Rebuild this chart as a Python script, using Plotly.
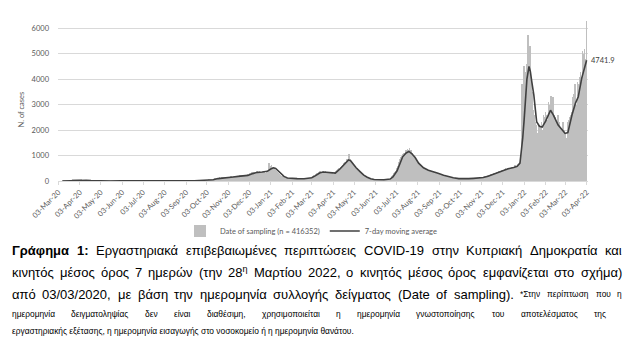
import pandas as pd
import plotly.graph_objects as go

# ---------------- data (daily cases by date of sampling) ----------------
start_date = "2020-03-03"
c_2020_03 = [0,0,0,0,0,0,2,2,3,5,8,6,10,12,15,20,18,25,30,28,35,40,30,38,45,42,50,35,40,48,55]
c_2020_04 = [52,45,40,38,30,35,28,25,20,22,18,15,20,12,10,14,8,10,6,9,5,7,4,6,3,5,4,2,3,4]
c_2020_05 = [2,3,1,2,4,1,0,2,3,1,2,1,0,3,2,1,2,4,1,0,2,1,3,2,5,3,2,4,6,3,2]
c_2020_06 = [5,8,4,3,2,6,10,7,4,3,2,5,3,2,4,1,2,3,5,2,3,1,2,4,3,2,5,6,3,4]
c_2020_07 = [3,2,4,1,2,3,5,4,2,3,1,2,6,4,3,2,5,3,2,1,4,6,8,5,3,4,7,9,6,8,10]
c_2020_08 = [12,9,14,11,8,15,13,10,16,12,9,18,14,11,8,13,10,7,12,9,11,8,14,10,12,9,7,11,13,8,10]
c_2020_09 = [9,12,8,6,10,14,11,8,12,9,7,13,10,15,12,9,14,18,12,10,16,13,20,15,11,18,22,16,19,24]
c_2020_10 = [25,30,38,45,55,60,70,65,80,95,90,105,110,98,120,130,115,125,140,135,128,150,145,138,155,160,142,150,165,158,148]
c_2020_11 = [150,165,140,170,185,160,145,175,190,200,170,180,210,195,175,160,205,220,195,185,230,215,200,180,245,235,215,230,260,250]
c_2020_12 = [270,300,320,290,340,360,310,330,370,350,320,380,350,370,340,390,360,330,350,380,400,360,340,300,320,280,370,390,710,420,580]
c_2021_01 = [560,620,500,540,480,530,450,420,380,360,330,290,270,250,230,210,190,175,160,150,140,130,125,115,110,105,100,95,90,100,95]
c_2021_02 = [95,105,90,85,100,110,95,88,92,100,85,80,95,90,85,78,88,95,82,90,100,95,110,105,120,130,115,140]
c_2021_03 = [150,180,200,220,190,250,280,300,270,320,350,330,380,360,340,370,390,350,330,360,380,340,320,350,370,330,310,340,360,320,300]
c_2021_04 = [280,260,320,350,380,420,450,480,500,470,520,560,600,580,640,700,680,750,720,800,850,780,900,1050,880,820,750,700,680,620]
c_2021_05 = [600,560,500,480,520,440,400,380,350,330,300,280,260,230,200,190,170,150,140,120,110,100,90,80,75,70,60,55,50,60,55]
c_2021_06 = [50,45,55,48,40,52,45,50,42,48,55,50,45,52,60,55,50,58,65,70,80,95,120,150,190,230,270,320,360,400]
c_2021_07 = [450,520,600,680,760,850,900,950,1000,1050,980,1100,1080,1150,1200,1100,1250,1180,1220,1300,1150,1200,1100,1050,1000,980,950,900,870,850,800]
c_2021_08 = [760,720,680,650,620,590,560,540,520,500,480,460,450,430,420,400,410,390,380,370,360,350,380,340,330,320,310,300,290,280,270]
c_2021_09 = [260,250,240,235,230,220,210,200,190,180,175,170,160,150,145,140,135,130,125,120,118,115,110,105,100,98,95,92,90,88]
c_2021_10 = [85,80,78,82,75,80,85,90,88,92,95,90,98,100,95,105,102,98,110,105,100,112,108,115,110,118,120,115,125,122,128]
c_2021_11 = [130,135,150,160,170,180,190,200,210,220,230,240,250,260,270,280,290,300,310,320,330,340,350,360,370,380,390,400,410,420]
c_2021_12 = [430,450,420,480,500,460,440,520,490,470,530,510,480,550,520,500,560,540,620,580,520,600,650,640,700,760,900,3200,3800,3500,4000]
c_2022_01 = [4500,4200,3900,4300,4600,4800,5750,4700,5300,4400,3900,3500,3000,2800,2600,2400,2300,2200,2100,1900,1700,2200,2100,2000,2150,2300,2000,1800,2600,2500,2450]
c_2022_02 = [2700,2600,2400,2200,3100,2900,3000,2800,3350,2500,2300,3300,2600,2500,2400,2300,2100,1900,2600,2300,2200,2100,2000,1800,1600,2300,2000,1900]
c_2022_03 = [1850,1700,1500,1600,2300,2200,2400,2500,2600,2400,2700,3300,3200,3400,3800,3500,3000,2800,3900,3700,3800,4100,4300,3900,3600,5100,4900,5000,5200,4800,4400]
c_2022_04 = [6300]

daily_cases = (c_2020_03 + c_2020_04 + c_2020_05 + c_2020_06 + c_2020_07 + c_2020_08 +
               c_2020_09 + c_2020_10 + c_2020_11 + c_2020_12 + c_2021_01 + c_2021_02 +
               c_2021_03 + c_2021_04 + c_2021_05 + c_2021_06 + c_2021_07 + c_2021_08 +
               c_2021_09 + c_2021_10 + c_2021_11 + c_2021_12 + c_2022_01 + c_2022_02 +
               c_2022_03 + c_2022_04)
daily_dates = pd.date_range(start_date, periods=len(daily_cases), freq="D")

# 7-day moving average
ma_dates = ["2020-03-09","2020-03-16","2020-03-23","2020-03-30","2020-04-05","2020-04-12","2020-04-19",
            "2020-04-26","2020-05-03","2020-05-17","2020-06-01","2020-06-08","2020-06-20","2020-07-10",
            "2020-07-25","2020-08-03","2020-08-15","2020-09-01","2020-09-15","2020-09-30","2020-10-05",
            "2020-10-12","2020-10-19","2020-10-26","2020-11-03","2020-11-10","2020-11-17","2020-11-24",
            "2020-12-01","2020-12-08","2020-12-15","2020-12-22","2020-12-29","2021-01-03","2021-01-07",
            "2021-01-10","2021-01-14","2021-01-18","2021-01-22","2021-01-27","2021-02-01","2021-02-10",
            "2021-02-20","2021-02-27","2021-03-03","2021-03-08","2021-03-15","2021-03-20","2021-03-27",
            "2021-04-02","2021-04-06","2021-04-13","2021-04-20","2021-04-25","2021-04-28","2021-05-02",
            "2021-05-06","2021-05-12","2021-05-17","2021-05-22","2021-05-27","2021-06-01","2021-06-15",
            "2021-06-24","2021-06-28","2021-07-04","2021-07-08","2021-07-12","2021-07-17","2021-07-21",
            "2021-07-25","2021-07-30","2021-08-04","2021-08-11","2021-08-18","2021-08-25","2021-09-01",
            "2021-09-09","2021-09-16","2021-09-23","2021-10-01","2021-10-08","2021-10-15","2021-10-22",
            "2021-10-29","2021-11-05","2021-11-12","2021-11-20","2021-11-27","2021-12-04","2021-12-11",
            "2021-12-19","2021-12-24","2021-12-28","2021-12-30","2022-01-01","2022-01-03","2022-01-05",
            "2022-01-07","2022-01-10","2022-01-12","2022-01-14","2022-01-17","2022-01-21","2022-01-25",
            "2022-01-29","2022-02-03","2022-02-07","2022-02-10","2022-02-14","2022-02-21","2022-02-27",
            "2022-03-03","2022-03-07","2022-03-10","2022-03-13","2022-03-18","2022-03-22","2022-03-27",
            "2022-04-01","2022-04-03"]
ma_values = [1,5,20,35,42,30,15,
             7,4,2,3,6,3,3,
             4,8,12,10,11,17,25,
             50,95,125,140,160,180,195,
             220,290,340,355,380,470,520,
             490,380,270,180,120,100,93,
             88,100,130,200,320,355,345,
             330,310,480,680,830,800,650,
             520,360,230,150,85,60,50,
             75,160,400,700,950,1100,1160,
             1080,920,700,520,420,370,300,
             230,170,130,95,82,92,105,
             118,135,190,270,350,430,480,
             530,580,700,1100,1700,2400,3300,
             4000,4500,4300,3900,3370,2330,2150,
             2120,2350,2600,2780,2600,2200,2000,
             1870,1900,2300,2600,3060,3310,4040,
             4630,4741.9]

tick_dates = list(pd.date_range("2020-03-01", "2022-04-01", freq="MS") + pd.Timedelta(days=2))
legend_bar = "Date of sampling (n = 416352)"
legend_line = "7-day moving average"

# ---------------- layout helpers ----------------
W, H = 630, 347
PL, PR, PT, PB = 58, 588, 20, 181

def px_x(x):
    return (x - PL) / (PR - PL)

def px_y(y):
    return (PB - y) / (PB - PT)

GRAY = "#595959"
CHART_FONT = "Lato, Open Sans, sans-serif"

fig = go.Figure()
fig.add_trace(go.Bar(x=daily_dates, y=daily_cases, name=legend_bar,
                     marker=dict(color="#bfbfbf", line=dict(width=0))))
fig.add_trace(go.Scatter(x=ma_dates, y=ma_values, name=legend_line, mode="lines",
                         line=dict(color="#404040", width=1.6)))

fig.update_layout(
    width=W, height=H,
    margin=dict(l=PL, r=W - PR, t=PT, b=H - PB),
    plot_bgcolor="white", paper_bgcolor="white",
    bargap=0,
    showlegend=True,
    legend=dict(orientation="h", x=px_x(311), xanchor="center", y=px_y(231), yanchor="middle",
                font=dict(family=CHART_FONT, size=7.5, color=GRAY), itemwidth=30,
                bgcolor="rgba(0,0,0,0)", tracegroupgap=0),
    font=dict(family=CHART_FONT, color=GRAY),
)
fig.update_xaxes(
    type="date", range=["2020-03-02 12:00", "2022-04-05"],
    tickvals=tick_dates, tickformat="%d-%b-%y", tickangle=-45,
    tickfont=dict(family=CHART_FONT, size=7.5, color=GRAY),
    showgrid=False, showline=True, linecolor="#d9d9d9", linewidth=1,
    ticks="outside", ticklen=3, tickcolor="#d9d9d9", zeroline=False,
)
fig.update_yaxes(
    range=[0, 6325], tickvals=[0, 1000, 2000, 3000, 4000, 5000, 6000],
    tickfont=dict(family=CHART_FONT, size=7.5, color=GRAY),
    showgrid=True, gridcolor="#d9d9d9", gridwidth=1, zeroline=False,
    ticks="", ticklabelstandoff=8,
)

ann = []
ann.append(dict(text="N. of cases", x=px_x(15), y=px_y(110), xref="paper", yref="paper",
                textangle=-90, showarrow=False, font=dict(family=CHART_FONT, size=7.5, color=GRAY)))
ann.append(dict(text=f"{ma_values[-1]}", x=ma_dates[-1], y=ma_values[-1], xref="x", yref="y",
                xanchor="left", yanchor="middle", xshift=2, showarrow=False,
                font=dict(family=CHART_FONT, size=7.5, color="#404040")))

# ---------------- caption (justified word by word) ----------------
CAP = "Liberation Sans, Arial, sans-serif"
BIG = 13
SMALL = 8.4

_w = {
    'α': .578, 'ά': .578, 'β': .575, 'γ': .5, 'δ': .557, 'ε': .445, 'έ': .445, 'ζ': .444,
    'η': .556, 'ή': .556, 'θ': .556, 'ι': .222, 'ί': .222, 'κ': .5, 'λ': .5, 'μ': .576,
    'ν': .5, 'ξ': .448, 'ο': .556, 'ό': .556, 'π': .69, 'ρ': .569, 'σ': .618, 'ς': .48,
    'τ': .395, 'υ': .545, 'ύ': .545, 'φ': .648, 'χ': .5, 'ψ': .712, 'ω': .781, 'ώ': .781,
    'Γ': .557, 'Ε': .667, 'Κ': .667, 'Δ': .668, 'Μ': .833, 'Σ': .6,
    '0': .556, '1': .556, '2': .556, '3': .556, '7': .556, '8': .556, '9': .556,
    '/': .278, ',': .278, '.': .278, '(': .333, ')': .333, ':': .278, '-': .333, '*': .389,
    'C': .722, 'O': .778, 'V': .667, 'I': .278, 'D': .722, 'a': .556, 't': .278, 'e': .556,
    'o': .556, 'f': .278, 's': .5, 'm': .833, 'p': .556, 'l': .222, 'i': .222, 'n': .556, 'g': .556,
}

def est_width(plain, size, bold=False):
    w = sum(_w.get(ch, .55) for ch in plain) * size
    return w * (1.08 if bold else 1.0)

def justify(tokens, x0, x1, y):
    widths = [est_width(p, s, b) + (0 if "<sup>" not in m else -0.3 * _w['η'] * s) for m, p, s, b in tokens]
    gap = (x1 - x0 - sum(widths)) / (len(tokens) - 1)
    x = x0
    for (m, p, s, b), w in zip(tokens, widths):
        ann.append(dict(text=m, x=px_x(x), y=px_y(y), xref="paper", yref="paper",
                        xanchor="left", yanchor="middle", showarrow=False,
                        font=dict(family=CAP, size=s, color="#000000")))
        x += w + gap

def words(text, size):
    return [(w, w, size, False) for w in text.split()]

line1 = [("<b>Γράφημα</b>", "Γράφημα", BIG, True), ("<b>1:</b>", "1:", BIG, True)] + \
    words("Εργαστηριακά επιβεβαιωμένες περιπτώσεις COVID-19 στην Κυπριακή Δημοκρατία και", BIG)
line2 = words("κινητός μέσος όρος 7 ημερών (την", BIG) + [("28<sup>η</sup>", "28η", BIG, False)] + \
    words("Μαρτίου 2022, ο κινητός μέσος όρος εμφανίζεται στο σχήμα)", BIG)
line3 = words("από 03/03/2020, με βάση την ημερομηνία συλλογής δείγματος (Date of sampling).", BIG) + \
    words("*Στην περίπτωση που η", SMALL)
line4 = words("ημερομηνία δειγματοληψίας δεν είναι διαθέσιμη, χρησιμοποιείται η ημερομηνία "
              "γνωστοποίησης του αποτελέσματος της", SMALL)

justify(line1, 10, 620, 250)
justify(line2, 10, 620, 272)
justify(line3, 10, 620, 294)
justify(line4, 10, 604, 314)
ann.append(dict(text="εργαστηριακής εξέτασης, η ημερομηνία εισαγωγής στο νοσοκομείο ή η ημερομηνία θανάτου.",
                x=px_x(10), y=px_y(331), xref="paper", yref="paper", xanchor="left", yanchor="middle",
                showarrow=False, font=dict(family=CAP, size=SMALL, color="#000000")))

fig.update_layout(annotations=ann)
fig.write_html("out.html")
